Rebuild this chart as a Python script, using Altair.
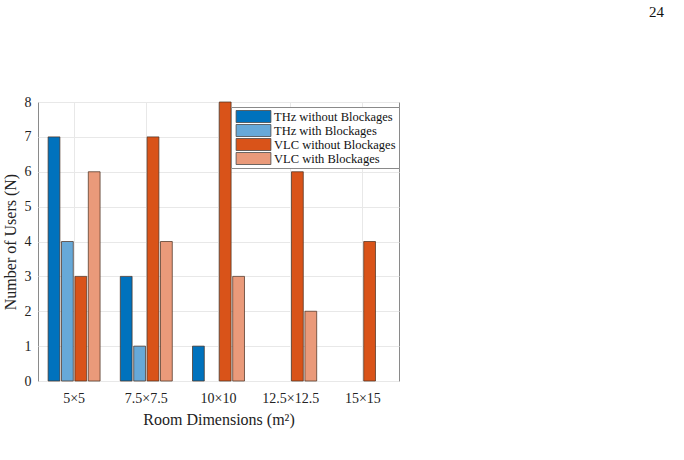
import altair as alt
import pandas as pd

categories = ["5×5", "7.5×7.5", "10×10", "12.5×12.5", "15×15"]
series = ["THz without Blockages", "THz with Blockages", "VLC without Blockages", "VLC with Blockages"]
thz_without = [7, 3, 1, 0, 0]
thz_with = [4, 1, 0, 0, 0]
vlc_without = [3, 7, 8, 6, 4]
vlc_with = [6, 4, 3, 2, 0]
colors = ["#0072BD", "#67A9D8", "#D95319", "#EA9A7A"]
y_ticks = [0, 1, 2, 3, 4, 5, 6, 7, 8]

rows = []
for s, vals in zip(series, [thz_without, thz_with, vlc_without, vlc_with]):
    for c, v in zip(categories, vals):
        rows.append({"room": c, "series": s, "users": v})
df = pd.DataFrame(rows)

FONT = "Liberation Serif"

bars = alt.Chart(df).transform_filter("datum.users > 0").mark_bar(
    stroke="#4a3020", strokeWidth=0.8, strokeOpacity=0.9
).encode(
    x=alt.X("room:N", sort=categories,
            scale=alt.Scale(paddingInner=0.28, paddingOuter=0.14),
            axis=alt.Axis(title="Room Dimensions (m²)", labelAngle=0, ticks=False,
                          grid=True, gridColor="#e8e8e8", domain=False,
                          labelPadding=10, titlePadding=6)),
    xOffset=alt.XOffset("series:N", sort=series, scale=alt.Scale(paddingInner=0.12)),
    y=alt.Y("users:Q", scale=alt.Scale(domain=[0, 8], nice=False),
            axis=alt.Axis(title="Number of Users (N)", values=y_ticks, ticks=False,
                          grid=True, gridColor="#e8e8e8", domain=False,
                          labelPadding=7, titlePadding=6)),
    color=alt.Color("series:N", sort=series,
                    scale=alt.Scale(domain=series, range=colors),
                    legend=alt.Legend(title=None, orient="none", legendX=193, legendY=5,
                                      symbolType="M-2.9,-1H2.9V1H-2.9Z", symbolSize=144,
                                      symbolOffset=13,
                                      symbolStrokeColor="#4a4a4a", symbolStrokeWidth=0.8,
                                      symbolOpacity=1, clipHeight=13,
                                      labelFont=FONT, labelFontSize=12.5, labelColor="#111",
                                      labelOffset=14, rowPadding=1,
                                      padding=3, strokeColor="#8a8a8a", fillColor="white",
                                      cornerRadius=0)),
)

page = alt.Chart(pd.DataFrame({"t": ["24"]})).mark_text(
    font=FONT, fontSize=15, align="right", baseline="middle", color="#111"
).encode(text="t:N", x=alt.value(626), y=alt.value(-90))

chart = alt.layer(bars, page).properties(
    width=361, height=279,
    padding={"left": 38, "top": 102, "right": 285, "bottom": 79},
    autosize=alt.AutoSizeParams(type="none"),
).configure_view(
    stroke="#8a8a8a", strokeWidth=1
).configure_axis(
    labelFont=FONT, titleFont=FONT, labelFontSize=14, titleFontSize=16,
    labelColor="#222", titleColor="#222", titleFontWeight="normal"
)

chart.save("out.html", embed_options={"renderer": "svg", "actions": False})
